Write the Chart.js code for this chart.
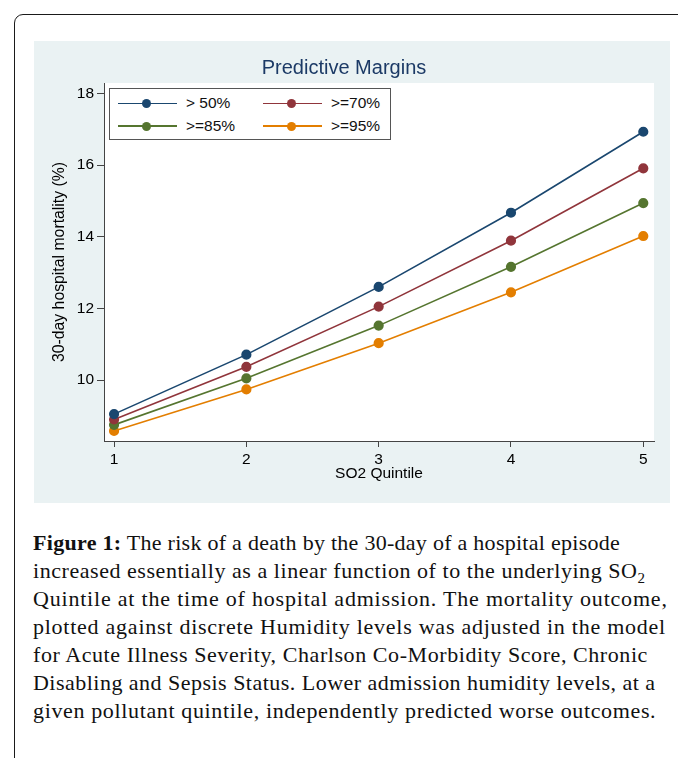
<!DOCTYPE html>
<html>
<head>
<meta charset="utf-8">
<script src="https://cdn.jsdelivr.net/npm/chart.js@4.4.1/dist/chart.umd.min.js"></script>
<style>
  html, body { margin: 0; padding: 0; background: #fff; }
  body { width: 678px; height: 758px; position: relative; overflow: hidden; }
  #frame {
    position: absolute; left: 14px; top: 14px; width: 720px; height: 800px;
    border: 1.5px solid #1a1a1a; border-radius: 9px; box-sizing: border-box;
  }
  #panel {
    position: absolute; left: 34px; top: 41px; width: 636px; height: 462px;
    background: #EAF2F3;
  }
  #chart2 { position: absolute; left: 0; top: 0; }
  #legend {
    position: absolute; left: 75px; top: 47px; width: 282px; height: 52px;
    border: 1px solid #555; background: #fff; box-sizing: border-box;
    font-family: "Liberation Sans", Arial, sans-serif; font-size: 15.5px; color: #111;
  }
  .lg-line { position: absolute; height: 1.5px; }
  .lg-dot { position: absolute; width: 9px; height: 9px; border-radius: 50%; }
  .lg-text { position: absolute; line-height: 18px; white-space: nowrap; }
  #caption {
    position: absolute; left: 33px; top: 529px; white-space: nowrap;
    font-family: "Liberation Serif", "Times New Roman", serif; font-size: 22px;
    line-height: 28px; color: #111;
  }
  #caption span { display: block; }
  #caption b { letter-spacing: 0.3px; }
  #caption sub { font-size: 15px; line-height: 0; }
</style>
</head>
<body>
<div id="frame"></div>
<div id="panel">
  <canvas id="chart2" width="636" height="462"></canvas>
  <div id="legend"></div>
</div>
<div id="caption">
  <span style="letter-spacing:0.27px"><b>Figure 1:</b> The risk of a death by the 30-day of a hospital episode</span>
  <span style="letter-spacing:0.55px">increased essentially as a linear function of to the underlying SO<sub>2</sub></span>
  <span style="letter-spacing:0.8px">Quintile at the time of hospital admission. The mortality outcome,</span>
  <span style="letter-spacing:0.75px">plotted against discrete Humidity levels was adjusted in the model</span>
  <span style="letter-spacing:0.57px">for Acute Illness Severity, Charlson Co-Morbidity Score, Chronic</span>
  <span style="letter-spacing:0.48px">Disabling and Sepsis Status. Lower admission humidity levels, at a</span>
  <span style="letter-spacing:0.64px">given pollutant quintile, independently predicted worse outcomes.</span>
</div>
<script>
// data
const quintiles = [1, 2, 3, 4, 5];
const over50 = [9.05, 10.71, 12.60, 14.67, 16.93];
const over70 = [8.90, 10.37, 12.05, 13.89, 15.91];
const over85 = [8.75, 10.05, 11.52, 13.16, 14.94];
const over95 = [8.58, 9.74, 11.03, 12.45, 14.02];
const seriesLabels = ['> 50%', '>=70%', '>=85%', '>=95%'];
const seriesColors = ['#1A476F', '#90353B', '#55752F', '#E37E00'];
const yTicks = [10, 12, 14, 16, 18];

const allSeries = [over50, over70, over85, over95];

function toPoints(values) {
  return quintiles.map((q, i) => ({ x: q, y: values[i] }));
}

// white plot region
const plotBackground = {
  id: 'plotBackground',
  beforeDraw(chart) {
    const { ctx, chartArea } = chart;
    ctx.save();
    ctx.fillStyle = '#ffffff';
    ctx.fillRect(chartArea.left, chartArea.top, chartArea.right - chartArea.left, chartArea.bottom - chartArea.top);
    ctx.restore();
  }
};

const axisFont = { family: '"Liberation Sans", Arial, sans-serif', size: 15.5 };

const ctx = document.getElementById('chart2').getContext('2d');
const chart2Instance = new Chart(ctx, {
  type: 'line',
  data: {
    datasets: allSeries.map((values, i) => ({
      label: seriesLabels[i],
      data: toPoints(values),
      borderColor: seriesColors[i],
      backgroundColor: seriesColors[i],
      pointBackgroundColor: seriesColors[i],
      pointBorderColor: seriesColors[i],
      pointRadius: 4.3,
      borderWidth: 1.6,
      tension: 0
    }))
  },
  options: {
    responsive: false,
    animation: false,
    devicePixelRatio: 1,
    layout: { padding: { left: 0, right: 16, top: 0, bottom: 0 } },
    plugins: {
      legend: { display: false },
      tooltip: { enabled: false },
      title: {
        display: true,
        text: 'Predictive Margins',
        color: '#1C3A66',
        font: { family: '"Liberation Sans", Arial, sans-serif', size: 20, weight: 'normal', lineHeight: 1.2 },
        padding: { top: 15, bottom: 3 }
      }
    },
    scales: {
      x: {
        type: 'linear',
        min: 0.924,
        max: 5.081,
        afterBuildTicks: scale => { scale.ticks = quintiles.map(v => ({ value: v })); },
        afterFit: scale => { scale.height = 62; },
        ticks: { color: '#000', font: axisFont, padding: 3 },
        grid: { drawOnChartArea: false, drawTicks: true, tickLength: 6, color: '#444' },
        border: { color: '#444', width: 1 },
        title: {
          display: true,
          text: 'SO2 Quintile',
          color: '#000',
          font: { family: '"Liberation Sans", Arial, sans-serif', size: 15.5, lineHeight: 1.2 },
          padding: { top: 0, bottom: 20 }
        }
      },
      y: {
        type: 'linear',
        min: 8.3,
        max: 18.29,
        afterBuildTicks: scale => { scale.ticks = yTicks.map(v => ({ value: v })); },
        afterFit: scale => { scale.width = 70; },
        ticks: { color: '#000', font: axisFont, padding: 3 },
        grid: { drawOnChartArea: false, drawTicks: true, tickLength: 7, color: '#444' },
        border: { color: '#444', width: 1 },
        title: {
          display: true,
          text: '30-day hospital mortality (%)',
          color: '#000',
          font: { family: '"Liberation Sans", Arial, sans-serif', size: 15.8, lineHeight: 1.2 },
          padding: { top: 16.5, bottom: 0 }
        }
      }
    }
  },
  plugins: [plotBackground]
});

// legend box drawn in HTML, two columns like the original
const legendEl = document.getElementById('legend');
const colX = [0, 145];
const rowY = [15, 37.5];
seriesLabels.forEach((label, i) => {
  const cx = colX[i % 2];
  const cy = rowY[Math.floor(i / 2)];
  const line = document.createElement('div');
  line.className = 'lg-line';
  line.style.cssText = `left:${cx + 7.5}px;top:${cy - 1.2}px;width:59px;background:${seriesColors[i]}`;
  const dot = document.createElement('div');
  dot.className = 'lg-dot';
  dot.style.cssText = `left:${cx + 32}px;top:${cy - 5}px;background:${seriesColors[i]}`;
  const text = document.createElement('div');
  text.className = 'lg-text';
  text.style.cssText = `left:${cx + 76}px;top:${cy - 10}px`;
  text.textContent = label;
  legendEl.append(line, dot, text);
});
</script>
</body>
</html>
